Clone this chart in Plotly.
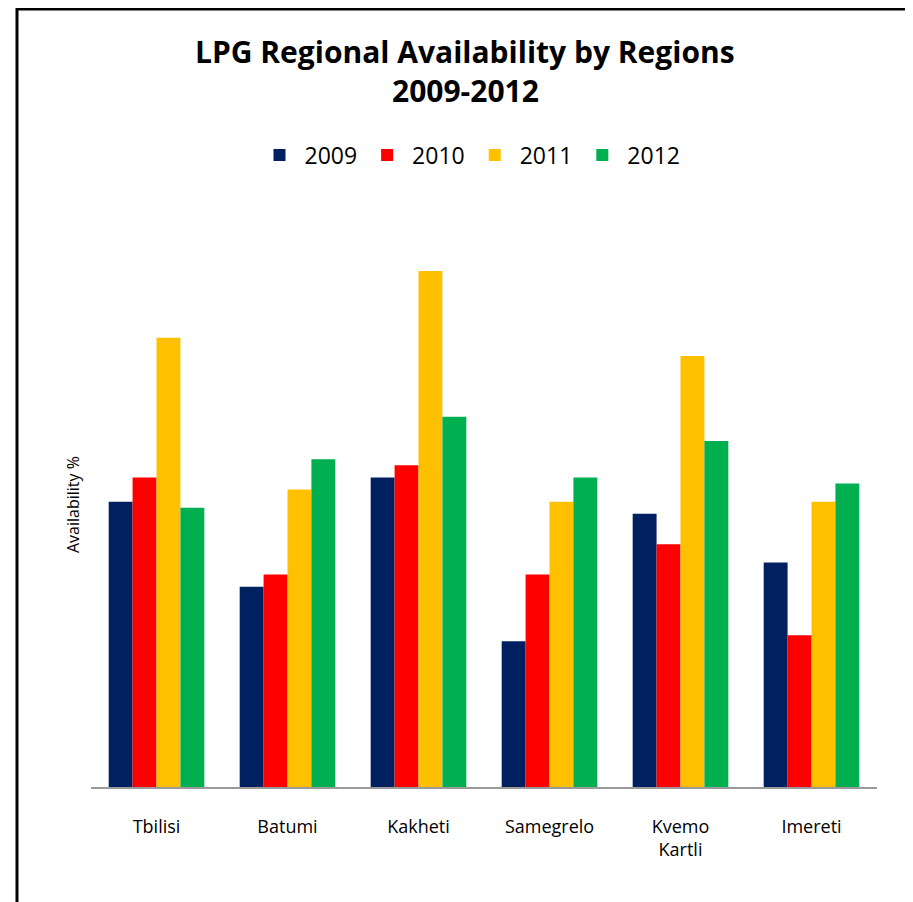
import plotly.graph_objects as go

regions = ["Tbilisi", "Batumi", "Kakheti", "Samegrelo", "Kvemo<br>Kartli", "Imereti"]
years = ["2009", "2010", "2011", "2012"]
v2009 = [47, 33, 51, 24, 45, 37]
v2010 = [51, 35, 53, 35, 40, 25]
v2011 = [74, 49, 85, 47, 71, 47]
v2012 = [46, 54, 61, 51, 57, 50]
series = [v2009, v2010, v2011, v2012]
colors = ["#002060", "#FF0000", "#FFC000", "#00B050"]
title_lines = ["LPG Regional Availability by Regions", "2009-2012"]
y_title = "Availability %"

fig = go.Figure()
for name, vals, col in zip(years, series, colors):
    fig.add_trace(go.Bar(x=regions, y=vals, name=name, marker=dict(color=col, line=dict(width=0))))

OFF = 8  # page body margin
W, H = 913 - OFF, 902 - OFF
ml, mr, mt, mb = 91 - OFF, 36, 180 - OFF, 115
pw, ph = W - ml - mr, H - mt - mb

def px_x(p):
    return (p - OFF - ml) / pw

def px_y(p):
    return (H - mb - (p - OFF)) / ph

annotations = [
    dict(text=title_lines[0], xref="paper", yref="paper", x=px_x(465), y=px_y(51),
         xanchor="center", yanchor="middle", showarrow=False,
         font=dict(family="Open Sans", size=30, color="black", weight="bold")),
    dict(text=title_lines[1], xref="paper", yref="paper", x=px_x(465), y=px_y(90),
         xanchor="center", yanchor="middle", showarrow=False,
         font=dict(family="Open Sans", size=30, color="black", weight="bold")),
    dict(text=y_title, xref="paper", yref="paper", x=px_x(73), y=px_y(505),
         xanchor="center", yanchor="middle", showarrow=False, textangle=-90,
         font=dict(family="Open Sans", size=16, color="black")),
]

fig.update_layout(
    width=W, height=H,
    margin=dict(l=ml, r=mr, t=mt, b=mb),
    paper_bgcolor="white", plot_bgcolor="white",
    barmode="group", bargap=0.27, bargroupgap=0,
    legend=dict(orientation="h", x=px_x(470), xanchor="center", xref="paper",
                y=px_y(155), yanchor="middle",
                font=dict(family="Open Sans", size=23, color="black"),
                itemwidth=40, traceorder="normal"),
    xaxis=dict(showline=True, linecolor="#9a9a9a", linewidth=2, ticks="",
               ticklabelstandoff=22,
               tickfont=dict(family="Open Sans", size=18, color="black"),
               showgrid=False),
    yaxis=dict(range=[0, 100], showticklabels=False, showgrid=False, zeroline=False,
               showline=False, ticks=""),
    annotations=annotations,
    shapes=[dict(type="rect", xref="paper", yref="paper",
                 x0=px_x(17), x1=px_x(910), y0=px_y(930), y1=px_y(9),
                 line=dict(color="black", width=3), fillcolor="rgba(0,0,0,0)", layer="below")],
)

fig.write_html("out.html")
